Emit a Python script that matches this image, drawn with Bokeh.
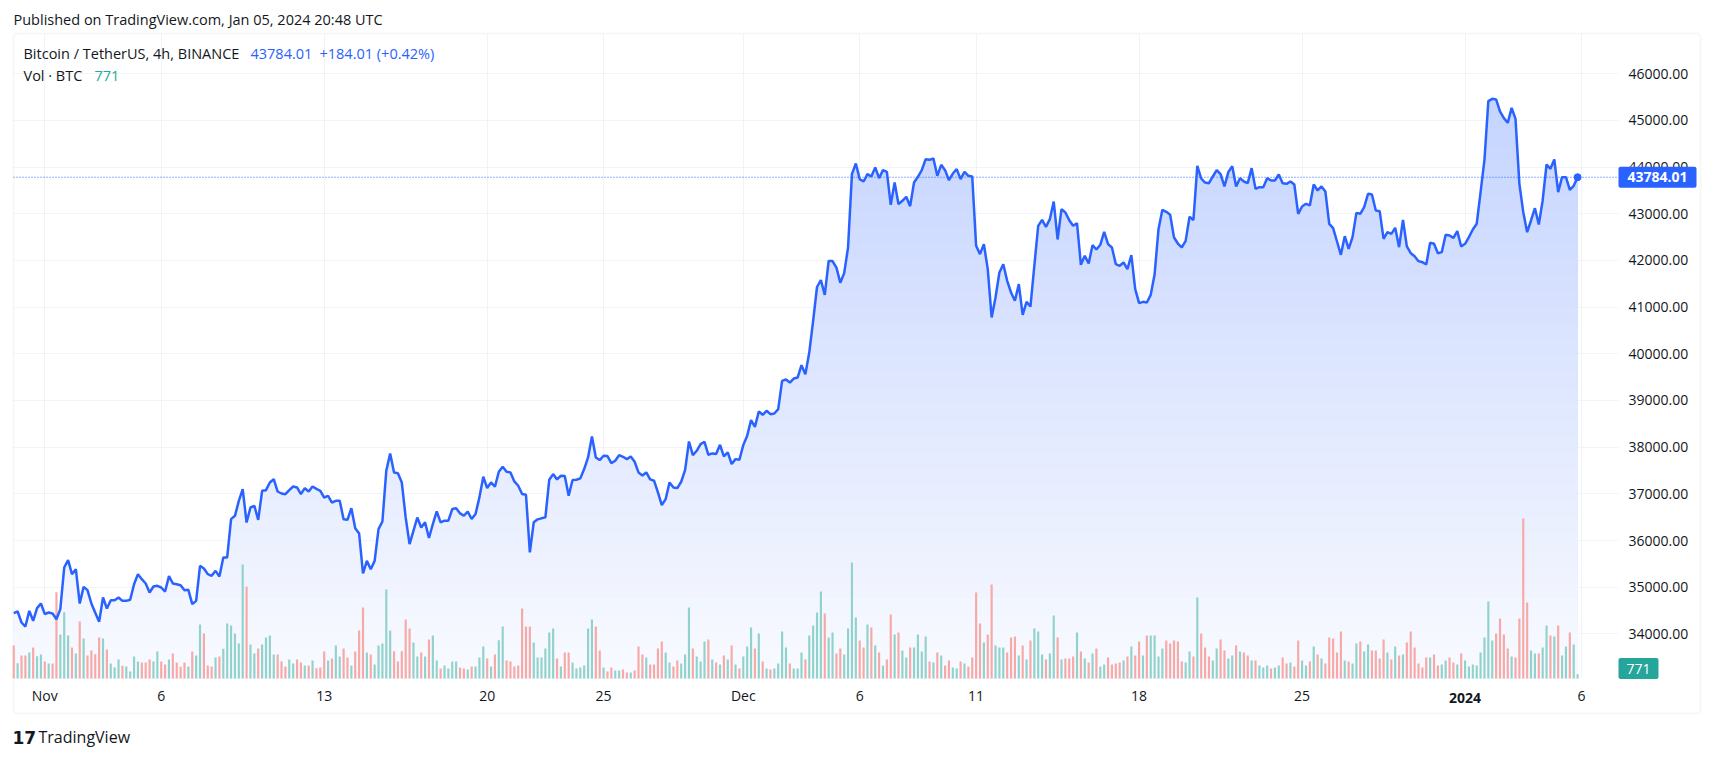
import numpy as np
from bokeh.plotting import figure
from bokeh.models import (Range1d, FixedTicker, NumeralTickFormatter, Label, BoxAnnotation)
from bokeh.embed import file_html
from bokeh.resources import INLINE

# ---------------- data (4h closes, BTCUSDT) ----------------
FIRST_BAR = "2023-10-30T16:00"
BAR_HOURS = 4

CLOSE_OCT = [34443, 34479, 34243, 34157, 34493, 34279, 34550, 34650]
CLOSE_NOV = [
    34421, 34457, 34436, 34314, 34529, 35421, 35579, 35279, 35386, 34650,
    35007, 34936, 34650, 34450, 34257, 34779, 34543, 34721, 34721, 34779,
    34707, 34707, 34729, 35064, 35279, 35171, 35079, 34886, 35014, 35029,
    34993, 34907, 35236, 35079, 35064, 35043, 34936, 34943, 34636, 34707,
    35457, 35400, 35279, 35243, 35350, 35229, 35636, 35636, 36457, 36529,
    36850, 37100, 36386, 36707, 36743, 36443, 37064, 37079, 37243, 37314,
    37050, 37007, 36993, 37079, 37157, 37136, 36993, 37121, 37050, 37157,
    37107, 37064, 36921, 36957, 36814, 36850, 36850, 36457, 36443, 36693,
    36264, 36150, 35293, 35564, 35386, 35564, 36243, 36407, 37493, 37864,
    37457, 37443, 37243, 36493, 35921, 36207, 36493, 36279, 36389, 36054,
    36353, 36624, 36389, 36425, 36425, 36674, 36689, 36582, 36532, 36617,
    36460, 36567, 36924, 37366, 37124, 37245, 37152, 37473, 37580, 37473,
    37459, 37266, 37174, 36995, 36981, 35747, 36389, 36453, 36475, 36496,
    37302, 37423, 37309, 37388, 37381, 36960, 37295, 37302, 37331, 37530,
    37780, 38229, 37780, 37723, 37816, 37809, 37659, 37709, 37830, 37794,
    37744, 37802, 37687, 37459, 37395, 37459, 37309, 37281, 37031, 36760,
    36888, 37245, 37138, 37124, 37259, 37509, 38122, 37830, 37923, 38065,
    38115, 37837, 37866, 37852, 38051, 37801, 37887, 37637, 37744, 37730,
]
CLOSE_DEC = [
    38044, 38244, 38579, 38436, 38764, 38693, 38779, 38707, 38722, 38814,
    39421, 39449, 39385, 39471, 39492, 39756, 39563, 40027, 40705, 41432,
    41582, 41261, 41989, 41989, 41846, 41525, 41729, 42279, 43850, 44079,
    43743, 43693, 43850, 43800, 43993, 43764, 43936, 43900, 43193, 43671,
    43207, 43279, 43364, 43164, 43671, 43793, 43936, 44171, 44157, 44186,
    43814, 44050, 43936, 43721, 43864, 43957, 43743, 43900, 43814, 43800,
    42314, 42136, 42350, 41814, 40779, 41207, 41743, 41921, 41564, 41314,
    41136, 41493, 40836, 41114, 41014, 41886, 42743, 42871, 42721, 42886,
    43264, 42450, 43100, 43029, 42864, 42743, 42800, 41907, 42100, 41936,
    42329, 42236, 42336, 42614, 42350, 42279, 41921, 41886, 41957, 41814,
    42114, 41386, 41086, 41114, 41100, 41264, 41707, 42671, 43086, 43043,
    42979, 42493, 42364, 42279, 42421, 42936, 42864, 44029, 43757, 43671,
    43657, 43800, 43936, 43850, 43586, 43893, 44021, 43586, 43764, 43693,
    43657, 43979, 43536, 43571, 43571, 43764, 43714, 43714, 43843, 43657,
    43643, 43693, 43629, 43000, 43157, 43214, 43179, 43629, 43500, 43586,
    43479, 42786, 42693, 42407, 42121, 42521, 42250, 42500, 43021, 43000,
    43143, 43429, 43414, 43071, 43057, 42464, 42607, 42571, 42700, 42286,
    42871, 42300, 42157, 42093, 41986, 41964, 41914, 42379, 42357, 42157,
    42179, 42550, 42536, 42486, 42629, 42300,
]
CLOSE_JAN = [
    42357, 42500, 42664, 42786, 43464, 44157, 45414, 45464, 45450, 45193,
    45050, 44950, 45271, 45036, 43643, 43036, 42607, 42857, 43121, 42771,
    43286, 44057, 43964, 44164, 43464, 43786, 43786, 43514, 43600, 43784.01,
]

# 4h volume, BTC
VOL_OCT = [5940, 2750, 4140, 4140, 4680, 5580, 4010, 4320]
VOL_NOV = [
    3060, 2700, 2700, 15530, 7920, 11930, 7740, 5580, 4500, 10260,
    7200, 4140, 5040, 4370, 7380, 7200, 5220, 2700, 2030, 3420,
    2290, 2160, 1260, 3960, 3060, 2880, 2880, 3420, 3060, 4860,
    3060, 2520, 3420, 4500, 2880, 2110, 2880, 2160, 4860, 4140,
    9720, 8100, 2340, 2160, 3780, 3960, 5350, 9900, 9540, 8100,
    6300, 20520, 16560, 6120, 4500, 5400, 6120, 7380, 7740, 4320,
    4320, 3060, 2160, 3420, 2700, 3420, 2880, 2340, 2340, 3240,
    1850, 1980, 4860, 3240, 3600, 5940, 3960, 5400, 3780, 2340,
    4860, 8640, 12780, 4680, 4320, 2520, 5940, 6300, 16020, 8640,
    4910, 3060, 4910, 10620, 9000, 6480, 3960, 4680, 3960, 7020,
    7740, 3240, 1800, 2340, 1800, 3060, 3060, 1980, 1800, 1620,
    2160, 2160, 3780, 5760, 3600, 2160, 4320, 6890, 9360, 3240,
    3060, 2160, 2340, 12600, 9360, 9360, 6480, 3780, 3780, 5400,
    8280, 9000, 3600, 2160, 4680, 4680, 2880, 1800, 1980, 2340,
    9000, 10620, 9360, 5040, 1980, 1260, 1980, 1440, 1440, 1620,
    1080, 1080, 1440, 5760, 4320, 3780, 2520, 2520, 5400, 6660,
    4680, 2880, 2160, 3240, 2700, 4320, 12780, 5400, 3960, 3060,
    6660, 7020, 3420, 2880, 2520, 4140, 3420, 5940, 2520, 1800,
]
VOL_DEC = [
    3960, 5760, 9180, 5400, 8100, 3060, 1800, 1620, 1800, 2700,
    8460, 5580, 2700, 1800, 1800, 4680, 3420, 7740, 9540, 11880,
    15660, 11700, 7380, 8280, 4500, 5400, 4320, 9000, 20880, 10980,
    6840, 5580, 9720, 9180, 5940, 4680, 2340, 3420, 11520, 7920,
    8280, 5040, 3780, 5580, 5580, 7920, 4860, 7560, 3060, 2880,
    4680, 4140, 2340, 3240, 1980, 1800, 3060, 2700, 2160, 3780,
    15480, 9900, 6480, 7920, 16920, 5940, 5580, 5580, 4680, 7380,
    7560, 4140, 5940, 3420, 6840, 9000, 8460, 4320, 3420, 4500,
    11340, 7380, 3420, 3600, 3600, 3960, 8280, 4860, 3600, 2880,
    4500, 5400, 2160, 2520, 3780, 2520, 2700, 2880, 3240, 3960,
    5760, 4140, 6660, 4140, 7740, 7740, 7740, 3960, 5400, 6840,
    6300, 6840, 6660, 3060, 2880, 4860, 3960, 14580, 8100, 5580,
    3960, 3240, 5400, 7020, 5040, 3600, 4140, 5940, 4860, 4680,
    4140, 3240, 3240, 2340, 1980, 2340, 1800, 1980, 2340, 3780,
    2700, 2880, 2160, 6840, 3240, 2340, 3060, 5760, 4320, 3600,
    2700, 7380, 7200, 4680, 8460, 3240, 3060, 2700, 6300, 6660,
    4860, 6120, 5040, 5040, 3600, 7020, 4680, 3420, 5760, 4140,
    4320, 6480, 8460, 5580, 2700, 1980, 3780, 3780, 4320, 2340,
    2520, 3240, 3780, 2880, 2520, 4500,
]
VOL_JAN = [
    3240, 2160, 2520, 2340, 4680, 7380, 13860, 6840, 8100, 10800,
    7920, 5400, 3960, 3780, 10800, 28800, 13680, 5040, 4500, 4500,
    5580, 9540, 7740, 7560, 9540, 4140, 5760, 8280, 6120, 771,
]

TICK_DATES = ["2023-11-01", "2023-11-06", "2023-11-13", "2023-11-20", "2023-11-25",
              "2023-12-01", "2023-12-06", "2023-12-11", "2023-12-18", "2023-12-25",
              "2024-01-01", "2024-01-06"]
TICK_LABELS = ["Nov", "6", "13", "20", "25", "Dec", "6", "11", "18", "25", "2024", "6"]
BOLD_TICK = "2024"
PRICE_TICKS = [34000, 35000, 36000, 37000, 38000, 39000, 40000,
               41000, 42000, 43000, 44000, 45000, 46000]

LAST_PRICE = 43784.01
LAST_CHANGE = "+184.01 (+0.42%)"
LAST_VOL = "771"

# ---------------- view settings ----------------
# canvas 1713x758 = frame ; pane: x 13..1618, y 33..678 ; chart box: x 13..1700, y 33..713
W, H = 1713, 758
PANE_L, PANE_R, PANE_T, PANE_B = 13, 1618, 33, 678
BOXR, BOXB = 1700, 713
X_START, X_END = "2023-10-30T15:44", "2024-01-07T14:10"   # at pane left / right
Y_MIN, Y_MAX = 33043, 46864                              # at pane bottom / top
VOL_PER_PX = 180
FONT = "Open Sans"
TXT = "#131722"
BLUE = "#2962ff"
TEAL = "#26a69a"
GRID = "#f0f3fa"


def ms(s):
    return float(np.datetime64(s).astype("datetime64[ms]").astype(np.int64))


close = np.array(CLOSE_OCT + CLOSE_NOV + CLOSE_DEC + CLOSE_JAN, dtype=float)
vol = np.array(VOL_OCT + VOL_NOV + VOL_DEC + VOL_JAN, dtype=float)
assert len(close) == len(vol)
n = len(close)
bar_ms = BAR_HOURS * 3600 * 1000.0
t = ms(FIRST_BAR) + np.arange(n) * bar_ms

x0, x1 = ms(X_START), ms(X_END)
px_ms = (x1 - x0) / (PANE_R - PANE_L)
px_price = (Y_MAX - Y_MIN) / (PANE_B - PANE_T)

p = figure(width=W, height=H, output_backend="svg", toolbar_location=None,
           x_range=Range1d(x0 - PANE_L * px_ms, x0 + (W - PANE_L) * px_ms),
           y_range=Range1d(Y_MIN - (H - PANE_B) * px_price, Y_MAX + PANE_T * px_price),
           y_axis_location="right",
           min_border_left=0, min_border_right=0, min_border_top=0, min_border_bottom=0)
p.extra_y_ranges = {"vol": Range1d(-(H - PANE_B) * VOL_PER_PX, PANE_B * VOL_PER_PX)}
p.title.visible = False
p.background_fill_color = "white"
p.border_fill_color = "white"
p.outline_line_color = None


def sy(y_top):
    """screen y (from bottom of canvas) for a y measured from the top"""
    return H - y_top


# chart box border
p.add_layout(BoxAnnotation(left=PANE_L, right=BOXR, top=sy(PANE_T), bottom=sy(BOXB),
                           left_units="screen", right_units="screen", top_units="screen",
                           bottom_units="screen", fill_alpha=0, line_color="#e3e5ec",
                           line_width=2, border_radius=4, level="underlay"))

# gradient-like area fill under the line (bands of constant colour in screen space)
N_BANDS = 40
edges = np.linspace(Y_MIN, Y_MAX, N_BANDS + 1)
for j in range(N_BANDS, 0, -1):
    mid = ((edges[j - 1] + edges[j]) / 2 - Y_MIN) / (Y_MAX - Y_MIN)
    a = 0.03 + 0.27 * mid
    col = "#%02x%02x%02x" % (round(255 - 214 * a), round(255 - 157 * a), 255)
    p.varea(x=t, y1=Y_MIN, y2=np.minimum(close, edges[j]), fill_color=col)

# volume
up = np.concatenate([[False], close[1:] >= close[:-1]])
vcolors = ["#92d2cc" if u else "#f7a9a7" for u in up]
p.vbar(x=t, top=vol, bottom=0, width=bar_ms * 0.56, fill_color=vcolors,
       line_color=None, y_range_name="vol")

# price line, last-price dotted line and dot
p.line(t, close, line_color=BLUE, line_width=2.5)
p.segment(x0=[x0], x1=[x1], y0=[LAST_PRICE], y1=[LAST_PRICE], line_color=BLUE,
          line_dash="1 2", line_width=1)
p.scatter([t[-1]], [close[-1]], size=7, fill_color=BLUE, line_color=BLUE)

# axes (drawn inside the canvas via negative standoff)
tick_ms = [ms(d) for d in TICK_DATES]
p.xaxis.ticker = FixedTicker(ticks=tick_ms)
p.xaxis.major_label_overrides = {tm: ("" if lb == BOLD_TICK else lb)
                                 for tm, lb in zip(tick_ms, TICK_LABELS)}
p.yaxis.ticker = FixedTicker(ticks=PRICE_TICKS)
p.yaxis.formatter = NumeralTickFormatter(format="0.00")
for ax in (p.xaxis, p.yaxis):
    ax.axis_line_color = None
    ax.major_tick_line_color = None
    ax.minor_tick_line_color = None
    ax.major_tick_out = 0
    ax.major_tick_in = 0
    ax.minor_tick_out = 0
    ax.major_label_text_font = FONT
    ax.major_label_text_font_size = "14px"
    ax.major_label_text_color = TXT
p.xaxis.major_label_standoff = 685 - H
p.yaxis.major_label_standoff = 1628 - W
p.xgrid.grid_line_color = GRID
p.ygrid.grid_line_color = GRID
p.xgrid.cross_bounds = (Y_MIN, Y_MAX)
p.ygrid.cross_bounds = (x0, x1)

for tm, lb in zip(tick_ms, TICK_LABELS):
    if lb == BOLD_TICK:
        p.add_layout(Label(x=tm, y=sy(697), x_units="data", y_units="screen", text=lb,
                           text_color=TXT, text_font=FONT, text_font_size="14px",
                           text_font_style="bold", text_align="center",
                           text_baseline="middle"))


def lab(x, y_top, text, color, size="14.5px", style="normal", font=FONT, align="left"):
    p.add_layout(Label(x=x, y=sy(y_top), x_units="screen", y_units="screen", text=text,
                       text_color=color, text_font=font, text_font_size=size,
                       text_font_style=style, text_baseline="middle", text_align=align))


# header / footer
lab(13, 19, "Published on TradingView.com, Jan 05, 2024 20:48 UTC", TXT)
lab(12, 737, "17", TXT, size="17px", style="bold", font="DejaVu Sans")
lab(38, 736.5, "TradingView", TXT, size="16px")

# legend texts inside pane
lab(23, 53, "Bitcoin / TetherUS, 4h, BINANCE", TXT)
lab(250, 53, "%.2f" % LAST_PRICE, BLUE)
lab(319, 53, LAST_CHANGE, BLUE)
lab(23, 75, "Vol · BTC", TXT)
lab(94, 75, LAST_VOL, "#22ab94")

# axis value tags (box + text)
TAG_H = 21
PRICE_TAG_W, VOL_TAG_W = 78, 40
half_h = TAG_H / 2 * px_price
p.add_layout(BoxAnnotation(left=PANE_R, right=PANE_R + PRICE_TAG_W, left_units="screen",
                           right_units="screen", bottom=LAST_PRICE - half_h,
                           top=LAST_PRICE + half_h, fill_color=BLUE, fill_alpha=1,
                           line_color=None, border_radius=2))
p.add_layout(Label(x=PANE_R + PRICE_TAG_W / 2, y=LAST_PRICE, x_units="screen", y_units="data",
                   text="%.2f" % LAST_PRICE, text_color="white", text_font=FONT,
                   text_font_size="14px", text_font_style="bold",
                   text_baseline="middle", text_align="center"))
vol_tag_c = sy(668)
p.add_layout(BoxAnnotation(left=PANE_R, right=PANE_R + VOL_TAG_W, bottom=vol_tag_c - TAG_H / 2,
                           top=vol_tag_c + TAG_H / 2, left_units="screen", right_units="screen",
                           bottom_units="screen", top_units="screen", fill_color=TEAL,
                           fill_alpha=1, line_color=None, border_radius=2))
p.add_layout(Label(x=PANE_R + VOL_TAG_W / 2, y=vol_tag_c, x_units="screen", y_units="screen",
                   text=LAST_VOL, text_color="white", text_font=FONT,
                   text_font_size="14px", text_baseline="middle", text_align="center"))

open("out.html", "w").write(file_html(p, INLINE))
